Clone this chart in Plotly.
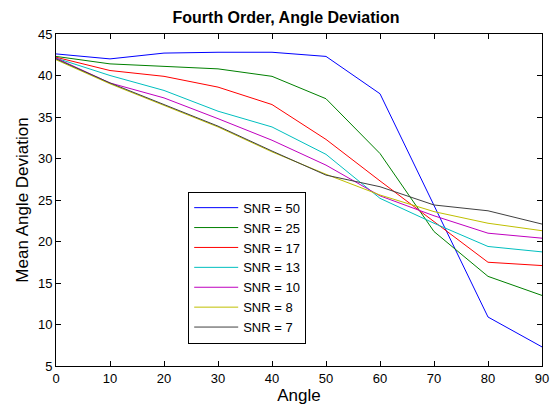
import plotly.graph_objects as go

angles = [0, 10, 20, 30, 40, 50, 60, 70, 80, 90]

snr_labels = ["SNR = 50", "SNR = 25", "SNR = 17", "SNR = 13", "SNR = 10", "SNR = 8", "SNR = 7"]

snr50 = [42.6, 42.0, 42.7, 42.8, 42.8, 42.3, 37.8, 24.4, 10.9, 7.3]
snr25 = [42.3, 41.4, 41.1, 40.8, 39.9, 37.2, 30.6, 21.2, 15.8, 13.5]
snr17 = [42.2, 40.6, 39.9, 38.6, 36.5, 32.3, 27.3, 22.4, 17.5, 17.1]
snr13 = [42.1, 40.0, 38.2, 35.7, 33.8, 30.5, 25.2, 22.2, 19.4, 18.75]
snr10 = [42.1, 39.1, 37.3, 34.8, 32.2, 29.2, 25.5, 23.1, 21.0, 20.4]
snr8 = [41.9, 39.0, 36.4, 33.8, 30.8, 28.1, 25.6, 23.6, 22.2, 21.3]
snr7 = [42.0, 39.1, 36.5, 33.9, 30.9, 28.0, 26.6, 24.4, 23.7, 22.1]

series = [snr50, snr25, snr17, snr13, snr10, snr8, snr7]
colors = ["#0000ff", "#008000", "#ff0000", "#00bfbf", "#bf00bf", "#bfbf00", "#404040"]

fig = go.Figure()
for label, ys, color in zip(snr_labels, series, colors):
    fig.add_trace(go.Scatter(
        x=angles, y=ys, mode="lines", name=label,
        line=dict(color=color, width=1),
    ))

axis_common = dict(
    showline=True, linecolor="black", linewidth=1, mirror="ticks",
    ticks="inside", ticklen=5, tickcolor="black", tickwidth=1,
    showgrid=False, zeroline=False, ticklabeloverflow="allow",
    tickfont=dict(family="Liberation Sans, Arial, sans-serif", size=13, color="black"),
)

fig.update_layout(
    width=556, height=410,
    margin=dict(l=56, r=7, t=34, b=44),
    paper_bgcolor="white", plot_bgcolor="white",
    font=dict(family="Liberation Sans, Arial, sans-serif", color="black"),
    title=dict(
        text="<b>Fourth Order, Angle Deviation</b>",
        font=dict(size=16, color="black"),
        x=286 / 556, xanchor="center", y=1 - 17 / 410, yanchor="middle",
    ),
    xaxis=dict(
        range=[0, 90], tickmode="array", tickvals=angles,
        title=dict(text="Angle", font=dict(size=17), standoff=2),
        **axis_common,
    ),
    yaxis=dict(
        range=[5, 45], tickmode="array", tickvals=[5, 10, 15, 20, 25, 30, 35, 40, 45],
        title=dict(text="Mean Angle Deviation", font=dict(size=17), standoff=4),
        **axis_common,
    ),
    legend=dict(
        x=0.272, y=0.525, xanchor="left", yanchor="top",
        bordercolor="black", borderwidth=1, bgcolor="white",
        font=dict(size=13, color="black"),
        tracegroupgap=0, itemwidth=44,
    ),
)

fig.write_html("out.html")
